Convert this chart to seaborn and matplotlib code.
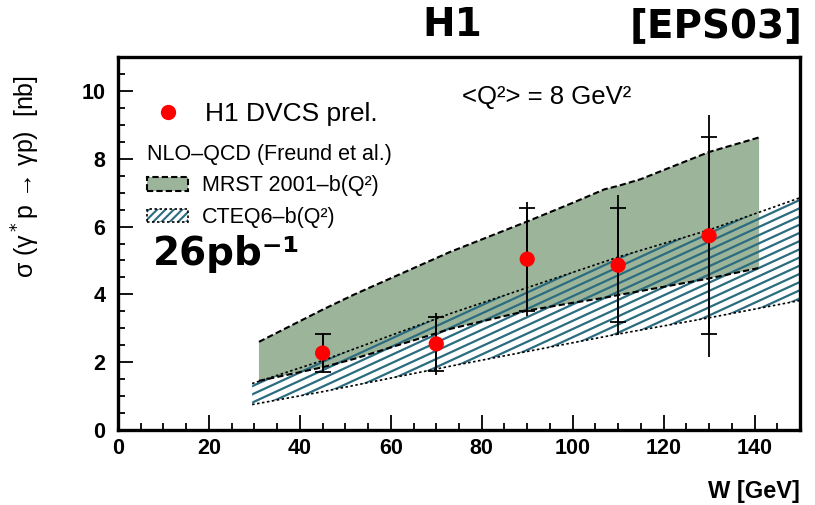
import numpy as np
import pandas as pd
import seaborn as sns
import matplotlib
matplotlib.use("Agg")
import matplotlib.pyplot as plt
from matplotlib.patches import Patch
from matplotlib.lines import Line2D
from matplotlib.legend_handler import HandlerTuple
from matplotlib.ticker import MultipleLocator

# H1 DVCS preliminary cross sections
w_data = [45, 70, 90, 110, 130]
sigma = [2.27, 2.54, 5.04, 4.86, 5.73]
err_stat = [0.57, 0.80, 1.52, 1.68, 2.90]
err_tot = [0.60, 0.92, 1.69, 2.07, 3.57]

# NLO-QCD band, MRST 2001 with b(Q^2)
mrst_w = [31, 45, 52, 73, 90, 100, 107, 110, 115, 130, 141]
mrst_hi = [2.60, 3.55, 4.00, 5.25, 6.15, 6.70, 7.10, 7.20, 7.40, 8.20, 8.63]
mrst_lo = [1.45, 1.85, 2.10, 2.98, 3.52, 3.75, 3.90, 3.98, 4.10, 4.47, 4.78]

# NLO-QCD band, CTEQ6 with b(Q^2)
cteq_w = [29.5, 45, 73, 110, 130, 150]
cteq_hi = [1.37, 2.05, 3.43, 5.10, 5.90, 6.85]
cteq_lo = [0.75, 1.13, 1.88, 2.83, 3.31, 3.82]

GREEN = "#9bb49a"
TEAL = "#2b6c80"

sns.set_theme(style="ticks")
plt.rcParams["font.family"] = ["Liberation Sans", "DejaVu Sans"]
plt.rcParams["hatch.linewidth"] = 1.5
for key in ("text.color", "axes.labelcolor", "xtick.color", "ytick.color", "axes.edgecolor"):
    plt.rcParams[key] = "black"

fig = plt.figure(figsize=(8.15, 5.05), dpi=100)
ax = fig.add_axes([0.1448, 0.1485, 0.8368, 0.7385])

# MRST band
ax.fill_between(mrst_w, mrst_lo, mrst_hi, facecolor=GREEN, edgecolor="none", zorder=1)
sns.lineplot(x=mrst_w, y=mrst_hi, ax=ax, color="black", lw=1.5, ls=(0, (3, 1.5)), zorder=3)
sns.lineplot(x=mrst_w, y=mrst_lo, ax=ax, color="black", lw=1.5, ls=(0, (3, 1.5)), zorder=3)

# CTEQ band: slanted hatch clipped to the band outline
band = ax.fill_between(cteq_w, cteq_lo, cteq_hi, facecolor="none", edgecolor="none", zorder=2)
clip_path = band.get_paths()[0]
slope = 0.46 * 682 / 373
for off in np.arange(-1.5, 1.2, 0.022):
    ln, = ax.plot([0, 1], [off, off + slope], transform=ax.transAxes,
                  color=TEAL, lw=1.6, zorder=2)
    ln.set_clip_path(clip_path, ax.transData)
sns.lineplot(x=cteq_w, y=cteq_hi, ax=ax, color="black", lw=1.2, ls=(0, (1.5, 1.5)), zorder=3)
sns.lineplot(x=cteq_w, y=cteq_lo, ax=ax, color="black", lw=1.2, ls=(0, (1.5, 1.5)), zorder=3)

# data points with total (line) and statistical (ticks) errors
ax.errorbar(w_data, sigma, yerr=err_tot, fmt="none", ecolor="black", elinewidth=1.3, zorder=4)
ax.errorbar(w_data, sigma, yerr=err_stat, fmt="none", ecolor="black", elinewidth=1.3,
            capsize=5.5, capthick=1.3, zorder=4)
df = pd.DataFrame({"W": w_data, "sigma": sigma})
sns.scatterplot(data=df, x="W", y="sigma", ax=ax, color="#ff0000", s=120,
                edgecolor="none", zorder=5)

ax.set_xlim(0, 150)
ax.set_ylim(0, 11)
ax.xaxis.set_major_locator(MultipleLocator(20))
ax.xaxis.set_minor_locator(MultipleLocator(5))
ax.yaxis.set_major_locator(MultipleLocator(2))
ax.yaxis.set_minor_locator(MultipleLocator(0.5))
ax.tick_params(which="both", direction="in", top=False, right=False, width=1.3, color="black")
ax.tick_params(which="major", length=11)
ax.tick_params(which="minor", length=5)
ax.tick_params(axis="x", pad=6)
ax.tick_params(axis="y", pad=9)
for lab in ax.get_xticklabels() + ax.get_yticklabels():
    lab.set_fontsize(15.5)
    lab.set_fontweight("bold")
for sp in ax.spines.values():
    sp.set_linewidth(2.4)
    sp.set_color("black")

ax.set_xlabel("W [GeV]", fontsize=17, fontweight="bold", loc="right", labelpad=15)
ax.set_ylabel("σ (γ$^*$p → γp)  [nb]", fontsize=18)
ax.yaxis.set_label_coords(-0.112, 0.68)

# legends
leg1 = ax.legend(handles=[Line2D([], [], ls="none", marker="o", ms=11, color="#ff0000", mec="none")],
                 labels=["H1 DVCS prel."], loc="center left", bbox_to_anchor=(0.054, 0.848),
                 frameon=False, fontsize=19, handlelength=1.0, handletextpad=0.9, borderpad=0,
                 borderaxespad=0)
ax.add_artist(leg1)
mrst_h = Patch(facecolor=GREEN, edgecolor="black", lw=1.5, ls=(0, (3, 1.5)))
cteq_h = (Patch(facecolor="white", edgecolor=TEAL, lw=0, hatch="////"),
          Patch(facecolor="none", edgecolor="black", lw=1.2, ls=(0, (1.5, 1.5))))
leg2 = ax.legend(handles=[mrst_h, cteq_h], labels=["MRST 2001–b(Q²)", "CTEQ6–b(Q²)"],
                 handler_map={tuple: HandlerTuple(ndivide=1, pad=0)},
                 title="NLO–QCD (Freund et al.)", title_fontsize=15.5, alignment="left",
                 loc="upper left", bbox_to_anchor=(0.0425, 0.768), frameon=False, fontsize=15.5,
                 handlelength=1.9, handleheight=0.6, handletextpad=0.65, labelspacing=0.5,
                 borderpad=0, borderaxespad=0)

ax.text(0.504, 0.893, "<Q²> = 8 GeV²", transform=ax.transAxes, fontsize=18.5, va="center")
ax.text(0.051, 0.442, "26pb⁻¹", transform=ax.transAxes, fontsize=28,
        fontweight="bold", family="DejaVu Sans", va="baseline")

fig.text(452 / 815, 1 - 25 / 505, "H1", fontsize=28, fontweight="bold",
         family="DejaVu Sans", ha="center", va="center")
fig.text(803 / 815, 1 - 26 / 505, "[EPS03]", fontsize=28, fontweight="bold",
         family="DejaVu Sans", ha="right", va="center")

fig.savefig("out.png", dpi=100)
